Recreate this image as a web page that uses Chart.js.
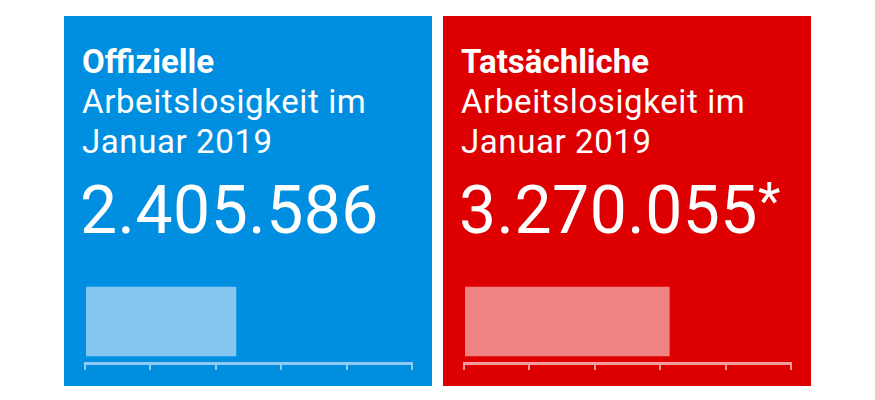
<!DOCTYPE html>
<html><head><meta charset="utf-8">
<script src="https://cdn.jsdelivr.net/npm/chart.js@4"></script>
<style>
body{margin:0;width:875px;height:400px;background:#fff;position:relative;overflow:hidden;font-family:Roboto,"Liberation Sans",sans-serif}
.p{position:absolute;top:16px;width:368px;height:370px;color:#fff;overflow:hidden}
.t{position:absolute;left:18px;top:26px;font-size:33px;line-height:40px;letter-spacing:0.6px}
.t b{font-weight:700;letter-spacing:0}
.n{position:absolute;left:16px;top:160px;font-size:66px;line-height:70px;letter-spacing:0.5px}
canvas{position:absolute;left:0;top:250px}
</style></head><body>
<div class="p" style="left:64px;background:#008fe0"><div class="t"><b>Offizielle</b><br>Arbeitslosigkeit im<br>Januar 2019</div><div class="n">2.405.586</div><canvas id="c0" width="368" height="110"></canvas></div>
<div class="p" style="left:443px;background:#de0000"><div class="t"><b>Tatsächliche</b><br>Arbeitslosigkeit im<br>Januar 2019</div><div class="n">3.270.055<span style="font-size:52px;vertical-align:top;line-height:52px">*</span></div><canvas id="c1" width="368" height="110"></canvas></div>
<script>
const categories=["Januar 2019"];
const official=[2405586];
const actual=[3270055];
const axisMax=5200000, axisStep=1100000;
function mk(id,vals,bar,ax){
 new Chart(document.getElementById(id),{type:'bar',
 data:{labels:categories,datasets:[{data:vals,backgroundColor:bar,barPercentage:0.84,categoryPercentage:1}]},
 options:{indexAxis:'y',responsive:false,animation:false,
 layout:{padding:{left:21,right:20,top:14,bottom:6}},
 plugins:{legend:{display:false},tooltip:{enabled:false}},
 scales:{y:{display:false},
 x:{min:0,max:axisMax,ticks:{stepSize:axisStep,display:false},
   grid:{drawOnChartArea:false,drawTicks:true,tickLength:7,color:ax,lineWidth:2},
   border:{display:true,color:ax,width:3}}}}});
}
mk('c0',official,'#85c6f1','#8dcbf2');
mk('c1',actual,'#f08383','#f29c9c');
</script></body></html>
